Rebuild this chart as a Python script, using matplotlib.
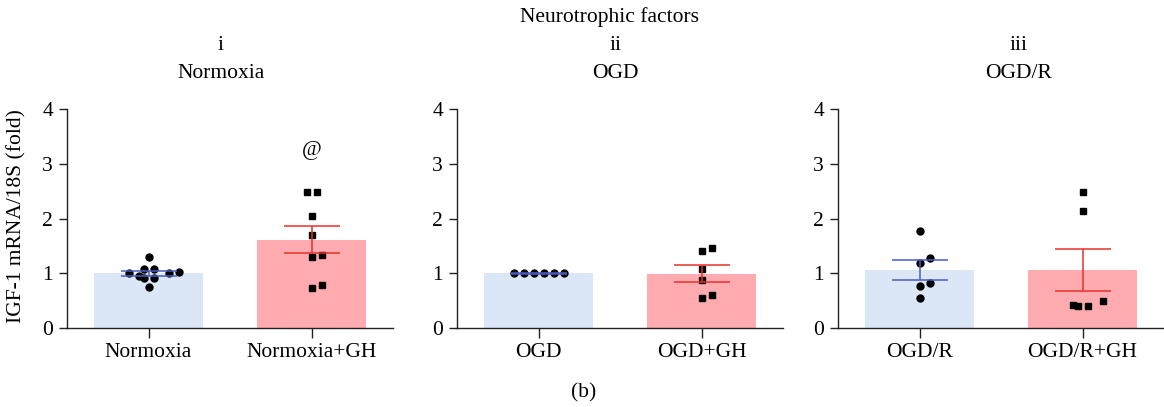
import numpy as np
import matplotlib
matplotlib.use("Agg")
import matplotlib.pyplot as plt

plt.rcParams['font.family'] = ['Liberation Serif', 'DejaVu Serif']
plt.rcParams['font.size'] = 15.5

# values
panels = ["i", "ii", "iii"]
conditions = ["Normoxia", "OGD", "OGD/R"]
groups = [["Normoxia", "Normoxia+GH"], ["OGD", "OGD+GH"], ["OGD/R", "OGD/R+GH"]]

means = [[1.00, 1.61], [1.00, 0.995], [1.065, 1.06]]
sems = [[0.045, 0.245], [0.005, 0.16], [0.18, 0.39]]

points_ctrl = [
    [1.30, 1.075, 1.075, 1.0, 1.0, 1.03, 0.95, 0.92, 0.92, 0.75],
    [1.0, 1.0, 1.0, 1.0, 1.0, 1.0],
    [1.78, 1.27, 1.19, 0.82, 0.77, 0.55],
]
points_gh = [
    [2.48, 2.48, 2.05, 1.70, 1.30, 1.33, 0.73, 0.78],
    [1.40, 1.465, 1.07, 0.87, 0.55, 0.61],
    [2.48, 2.14, 0.40, 0.42, 0.50, 0.40],
]
marks = ["@", "", ""]

bar_colors = ["#dbe6f6", "#ffabaf"]
err_colors = ["#4d5bbf", "#e8312a"]
pt_markers = ["o", "s"]

W, H = 1164, 407
fig = plt.figure(figsize=(W / 100, H / 100), dpi=100)

ax_left = [67, 457, 838]
ax_w, ax_b, ax_h = 326, 79, 219


def swarm(vals, xpx_per_unit, ypx_per_unit, step=10, diam=8):
    # simple beeswarm: each point takes the nearest free horizontal slot
    order = np.argsort(vals, kind="stable")
    placed = []
    offs = np.zeros(len(vals))
    cands = [0]
    for j in range(1, 20):
        cands += [j, -j]
    for i in order:
        y = vals[i] * ypx_per_unit
        for c in cands:
            x = c * step
            if all(np.hypot(x - px, y - py) >= diam for px, py in placed):
                break
        placed.append((x, y))
        offs[i] = x
    # center rows of identical values
    for v in np.unique(vals):
        same = vals == v
        if same.sum() > 1:
            offs[same] -= offs[same].mean()
    return offs / xpx_per_unit


for p in range(3):
    ax = fig.add_axes([ax_left[p] / W, ax_b / H, ax_w / W, ax_h / H])
    xs = np.arange(2)
    ax.bar(xs, means[p], width=0.67, color=bar_colors, zorder=1)
    xu = ax_w / 2.0
    yu = ax_h / 4.0
    for g, pts in enumerate([points_ctrl[p], points_gh[p]]):
        pts = np.array(pts)
        off = swarm(pts, xu, yu)
        ax.plot(xs[g] + off, pts, linestyle="none", marker=pt_markers[g],
                ms=5, color="black", zorder=3)
        ax.errorbar(xs[g], means[p][g], yerr=sems[p][g], fmt="none",
                    ecolor=err_colors[g], elinewidth=1.1, capsize=20,
                    capthick=1.1, zorder=4)
    if marks[p]:
        ax.text(1, 3.25, marks[p], ha="center", va="center")

    ax.set_xlim(-0.5, 1.5)
    ax.set_ylim(0, 4)
    ax.set_yticks([0, 1, 2, 3, 4])
    ax.set_xticks(xs)
    ax.set_xticklabels(groups[p])
    for s in ["top", "right"]:
        ax.spines[s].set_visible(False)
    for s in ["left", "bottom"]:
        ax.spines[s].set_linewidth(1.0)
        ax.spines[s].set_color("#222222")
    ax.tick_params(axis="y", length=6, width=1.0, pad=4, color="#222222")
    ax.tick_params(axis="x", length=7, width=1.0, pad=4, color="#222222")

fig.text(17 / W, 1 - 216 / H, "IGF-1 mRNA/18S (fold)", rotation=90,
         ha="center", va="center")

fig.text(609 / W, 1 - 22 / H, "Neurotrophic factors", ha="center", va="baseline")
title_x = [221, 615, 1019]
for p in range(3):
    fig.text(title_x[p] / W, 1 - 50 / H, panels[p], ha="center", va="baseline")
    fig.text(title_x[p] / W, 1 - 78 / H, conditions[p], ha="center", va="baseline")
fig.text(584 / W, 1 - 397 / H, "(b)", ha="center", va="baseline")

fig.savefig("out.png", dpi=100)
